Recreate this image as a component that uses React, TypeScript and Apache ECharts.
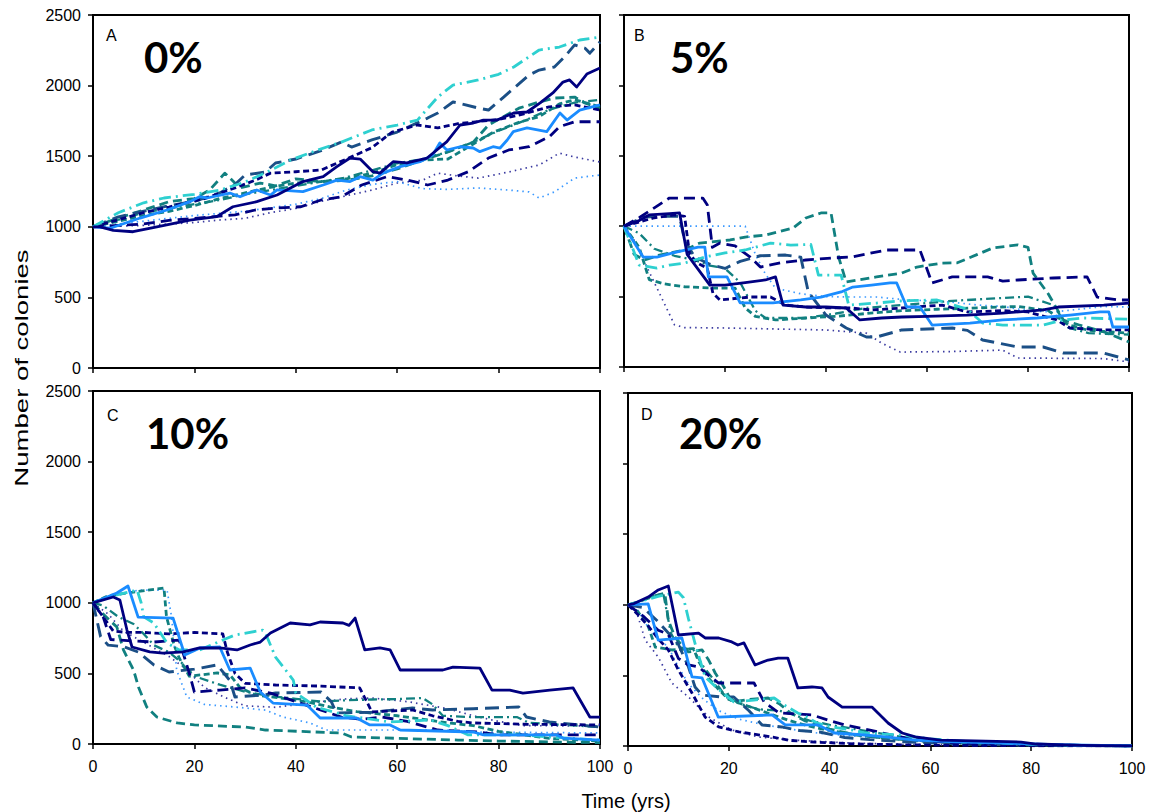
import React, { useEffect, useRef } from "react";
import * as echarts from "echarts";

// ---------- Data: number of colonies over time (years), ten simulation runs per harvest level ----------
const xTicks = [0, 20, 40, 60, 80, 100];
const yTicks = [0, 500, 1000, 1500, 2000, 2500];

// Panel A – 0%
const aNavySolid = [[0,1000],[1.4,1000],[4,975],[7.9,965],[12.6,1000],[19.1,1048],[24.4,1072],[27.6,1142],[32.3,1178],[36.3,1225],[41.4,1320],[45.4,1355],[48.1,1426],[50.7,1487],[52.7,1480],[55.2,1390],[56.6,1380],[59.2,1461],[61.9,1452],[65.9,1487],[69.8,1603],[72.4,1721],[75,1735],[77,1756],[79.7,1756],[83,1806],[85.6,1813],[88.2,1877],[90.7,1948],[92.7,2025],[94,2040],[95.4,1990],[97.4,2082],[100,2125]];
const aBlueSolid = [[0,1000],[3.4,990],[9.3,1062],[14.6,1119],[19.1,1178],[21,1213],[22.5,1204],[27,1239],[29,1213],[32.3,1261],[35,1225],[36.3,1261],[41.4,1249],[45.4,1296],[48.1,1331],[50.7,1320],[52.7,1355],[55.2,1331],[57.2,1380],[60.6,1426],[64.5,1461],[67,1508],[68.4,1593],[69.8,1544],[72.4,1567],[75,1558],[76.3,1532],[78.9,1567],[80.3,1558],[81.7,1615],[82.9,1674],[85.6,1700],[89.5,1674],[92.1,1806],[93.5,1756],[96,1827],[100,1863]];
const aNavyShortDash = [[0,1000],[5,1050],[10,1100],[15,1140],[18,1167],[22,1200],[28,1275],[32,1330],[35,1380],[40,1390],[45,1402],[50,1480],[55,1560],[59,1671],[64,1721],[68,1700],[72,1730],[75,1742],[80,1760],[85,1800],[90,1850],[95,1863],[100,1827]];
const aNavyLongDash = [[0,1000],[5,1010],[10,1020],[15,1045],[20,1060],[25,1075],[28,1085],[32,1119],[36,1133],[41,1142],[45,1190],[49,1213],[53,1296],[58,1355],[62,1331],[66,1296],[70,1331],[74,1390],[78,1487],[82,1544],[86,1567],[90,1638],[92,1709],[95,1744],[100,1744]];
const aSteelDash = [[0,1000],[5,1070],[10,1110],[15,1150],[20,1180],[25,1240],[28,1300],[30,1367],[34,1388],[36,1452],[40,1480],[45,1540],[49,1600],[51,1565],[55,1615],[60,1671],[66,1770],[68,1806],[71,1884],[72,1877],[76,1841],[78,1827],[81,1919],[86,2075],[88,2110],[91,2132],[93,2203],[95,2288],[97,2266],[98,2230],[100,2309]];
const aTealDash = [[0,1000],[5,1062],[10,1119],[15,1178],[20,1200],[23,1260],[26,1380],[29,1275],[33,1310],[36,1290],[40,1340],[45,1320],[50,1330],[55,1360],[60,1410],[65,1473],[70,1530],[75,1600],[78,1721],[84,1840],[88,1884],[91,1912],[95,1919],[97,1877],[100,1841]];
const aTealShortDash = [[0,1000],[5,1040],[10,1080],[15,1110],[20,1150],[25,1200],[30,1240],[35,1280],[40,1310],[45,1320],[50,1340],[55,1380],[60,1440],[65,1473],[70,1480],[74,1565],[79,1671],[84,1740],[88,1780],[92,1870],[95,1900],[100,1850]];
const aCyanDashDot = [[0,1000],[5,1100],[10,1170],[14,1204],[20,1230],[25,1260],[30,1317],[35,1400],[39,1473],[44,1540],[49,1600],[55,1686],[60,1720],[64,1756],[68,1919],[71,2004],[76,2040],[80,2080],[83,2132],[88,2252],[92,2273],[96,2323],[100,2344]];
const aNavyDotted = [[0,1000],[10,1010],[20,1030],[25,1048],[30,1060],[35,1100],[40,1130],[45,1180],[50,1220],[55,1260],[60,1310],[65,1330],[68,1380],[72,1360],[76,1345],[82,1388],[88,1438],[92,1522],[95,1494],[100,1459]];
const aBlueDotted = [[0,1000],[10,1040],[20,1080],[30,1110],[40,1160],[45,1200],[50,1260],[55,1300],[60,1320],[65,1270],[70,1265],[76,1275],[82,1260],[86,1247],[88,1204],[91,1247],[95,1345],[100,1367]];
const aTealDashDot = [[0,1000],[5,1050],[10,1100],[15,1130],[20,1160],[25,1190],[30,1230],[35,1260],[40,1290],[45,1320],[50,1350],[55,1400],[60,1450],[65,1480],[70,1530],[75,1600],[80,1680],[85,1750],[90,1830],[95,1880],[100,1900]];

// Panel B – 5%
const bNavySolid = [[0,1000],[3,1040],[5,1080],[9,1090],[11,1094],[12.5,800],[17,582],[20,582],[24,600],[28,618],[30,640],[31.5,440],[36,426],[40,426],[44,419],[46.7,334],[51,348],[55,355],[60,360],[68,369],[75,383],[83,405],[86,426],[95,440],[100,454]];
const bBlueSolid = [[0,1000],[3.8,781],[6.5,781],[9.7,810],[14.7,852],[16,852],[16.7,640],[20.4,640],[23,455],[29.5,455],[35,476],[39,497],[43,533],[45.3,568],[49,582],[52.7,597],[54,597],[56,426],[58.6,426],[61,298],[68.5,312],[75,334],[81.8,348],[88.3,369],[94.3,391],[96,391],[96.8,284],[100,284]];
const bNavyLongDash = [[0,1000],[3,1060],[6,1130],[9,1200],[15.6,1200],[16.5,1150],[17.5,850],[19,880],[22,860],[25,780],[27,710],[31,740],[36,760],[41,774],[45,781],[52,831],[58.6,831],[61,597],[65,640],[72,640],[75,610],[78,618],[85,632],[91.7,640],[93.7,497],[98,476],[100,476]];
const bNavyShortDash = [[0,1000],[3,1030],[6,1060],[10,1080],[12,1070],[13,800],[14.5,740],[16.5,700],[17.6,525],[19,476],[25,497],[29,497],[32,440],[36,426],[40,420],[45,419],[49,405],[55,419],[63,440],[68,391],[75,400],[80,391],[85.7,334],[88.3,277],[95,263],[100,263]];
const bSteelDash = [[0,1000],[4,1065],[8,1070],[11,1070],[12,900],[14,781],[17,730],[20,700],[23,750],[27,790],[32,795],[35,780],[36.5,532],[40,369],[44,277],[48,213],[50,213],[55,263],[65,277],[68,260],[71,192],[78,142],[83,142],[87,99],[95,99],[100,50]];
const bTealDash = [[0,1000],[2,800],[4,760],[7,795],[12,831],[15,880],[21,902],[24,923],[28,937],[33.5,987],[36,1058],[39,1094],[41,1094],[42.5,780],[44,604],[50,640],[55,667],[58,710],[63,738],[66,740],[70,800],[73,845],[78,867],[80,850],[81,667],[84,520],[87,334],[90,300],[95,250],[100,178]];
const bTealShortDash = [[0,1000],[2,900],[3,850],[5,620],[8,590],[12,570],[18,560],[22,560],[24,420],[26,360],[30,334],[36,348],[42,360],[48,380],[55,400],[62,410],[70,420],[78,430],[84,400],[88,300],[92,260],[96,250],[100,240]];
const bCyanDashDot = [[0,1000],[3,724],[6.5,703],[9,724],[12,738],[16,781],[20,810],[24,831],[29,880],[33,866],[37,870],[38.5,653],[43,653],[44.5,440],[50,454],[55,470],[62,476],[68,410],[71,312],[75,298],[83,298],[87,334],[91,348],[100,340]];
const bNavyDotted = [[0,1000],[2,900],[4,750],[6,600],[8,450],[10,300],[12,280],[20,277],[30,270],[40,263],[48,240],[51,170],[54.7,106],[65,110],[75,120],[78,64],[85,62],[95,60],[100,36]];
const bBlueDotted = [[0,1000],[5,1000],[15,1000],[24,1000],[26,800],[28,660],[30,560],[35,520],[40,500],[45,497],[50,497],[55,480],[60,470],[65,460],[70,440],[75,430],[80,400],[85,390],[90,410],[95,430],[100,426]];
const bTealDashDot = [[0,1000],[3,950],[6,840],[10,790],[14,760],[17,720],[20,700],[23,600],[26,400],[28,348],[36,348],[42,380],[48,420],[55,440],[60,454],[65,470],[70,480],[75,490],[80,500],[85,440],[88,280],[92,240],[100,230]];

// Panel C – 10%
const cNavySolid = [[0,1000],[4,1041],[5.3,1020],[6.7,807],[7.7,687],[11.2,652],[13.8,644],[17.8,652],[21,680],[25,680],[28.4,666],[31,701],[33,722],[35,786],[38.9,857],[42.8,843],[44.8,864],[49.3,857],[50.5,840],[51.7,892],[53.6,666],[56.6,680],[58.6,666],[60.6,524],[65.1,524],[69,524],[71,545],[76.3,538],[78.7,382],[82.2,382],[84.8,361],[90.1,382],[94.7,397],[98,191],[100,191]];
const cBlueSolid = [[0,1000],[4.7,1069],[6.9,1119],[8.9,899],[15.8,892],[18.1,630],[21.1,680],[25,687],[27,524],[31,538],[33,368],[35.5,290],[42.2,276],[44.8,184],[52,184],[54.6,135],[58.6,135],[60.6,99],[75,85],[77,64],[91.5,64],[92.7,42],[100,28]];
const cNavyShortDash = [[0,1000],[2,900],[4,800],[6.7,790],[10,790],[15,780],[20,790],[25.6,780],[26.5,650],[28,500],[30,430],[36,418],[45,410],[52.6,397],[54,300],[55,227],[63,241],[67,200],[72,160],[75,149],[85,140],[100,135]];
const cNavyLongDash = [[0,1000],[2,900],[3.5,740],[8,730],[12,722],[17,736],[19,500],[20,368],[25,382],[30,397],[35,360],[40,300],[45,240],[49,190],[53,175],[57,191],[62,160],[68,99],[76,85],[80,64],[100,64]];
const cSteelDash = [[0,1000],[1.5,760],[3,700],[6,690],[9,650],[12,560],[15,510],[20,530],[24.5,560],[27,450],[28,333],[33.5,347],[36,361],[45,368],[47,300],[48,220],[55,225],[63,255],[67,241],[75,250],[84,262],[85.5,191],[90,156],[100,120]];
const cTealDash = [[0,1000],[2,920],[4.7,829],[6,666],[8,524],[9,400],[10.6,262],[12.6,191],[16.6,149],[20,135],[30,120],[34,99],[49,78],[51,50],[60,40],[72,28],[80,21],[90,15],[100,10]];
const cTealShortDash = [[0,1000],[3,1050],[8,1076],[14,1105],[14.5,900],[16,700],[17,609],[19,480],[24.5,503],[27,490],[29,400],[32,347],[36,330],[42,300],[47,260],[52,230],[60,200],[70,150],[75,130],[80,90],[90,40],[100,20]];
const cCyanDashDot = [[0,1000],[4,1050],[8.7,1090],[9.5,1000],[10,900],[12,857],[14.6,715],[17,666],[21,666],[25.6,736],[28,772],[33.5,807],[34,786],[36,616],[38,524],[39.5,453],[40,361],[44,262],[50,200],[58.6,156],[66.5,170],[70,130],[74,64],[85,64],[90,50],[100,28]];
const cNavyDotted = [[0,1000],[3,920],[6,800],[10,720],[15,620],[18,540],[22,400],[26,330],[30,270],[36,260],[45,300],[50,320],[55,326],[62,300],[70,250],[75,200],[80,160],[85,130],[100,127]];
const cBlueDotted = [[0,1000],[4,1050],[9,1090],[14.6,1090],[15.5,900],[16.5,524],[18.5,333],[22,280],[28,262],[34,240],[37.5,191],[42.8,149],[46,99],[60,99],[70,99],[75,85],[100,78]];
const cTealDashDot = [[0,1000],[2,980],[5,900],[8,850],[10,780],[12,700],[15,650],[18,560],[20,480],[25,420],[30,370],[35,340],[40,320],[45,300],[50,310],[55,315],[60,318],[65,326],[67,280],[69,200],[75,190],[83.6,191],[86,150],[100,120]];

// Panel D – 20%
const dNavySolid = [[0,1000],[1,1006],[4,1055],[6,1105],[8,1133],[10,786],[14,800],[15.3,765],[18,765],[20.6,737],[21.8,715],[23,730],[25.2,574],[27.8,609],[29.8,623],[31.7,623],[33.7,411],[36.5,418],[38.5,411],[39.7,347],[42.5,276],[48.4,276],[51.6,163],[54.4,92],[57,64],[62,42],[71,35],[78,28],[81,14],[90,5],[100,0]];
const dBlueSolid = [[0,1000],[4,1006],[6,750],[10.7,765],[12.7,489],[14.7,482],[17.9,205],[28.6,220],[31.2,149],[37.7,149],[41,92],[47,78],[51,64],[57,42],[65,30],[75,20],[85,10],[100,0]];
const dNavyShortDash = [[0,1000],[2,930],[4,850],[6,760],[8,680],[10,538],[12.7,375],[15.3,205],[18,135],[22,100],[28.6,64],[32,40],[37,28],[45,15],[55,8],[70,3],[100,0]];
const dNavyLongDash = [[0,1000],[3,920],[6,820],[8,790],[10,620],[12,574],[14,560],[16,500],[18,446],[25,446],[26,380],[27,312],[30,234],[36.5,220],[40,180],[43,149],[48,113],[52,80],[56,50],[62,30],[70,15],[80,8],[100,2]];
const dSteelDash = [[0,1000],[3,980],[6,880],[8,800],[10,720],[12,560],[13.3,418],[14.7,361],[18.6,347],[21,347],[24,250],[26.6,149],[30.5,135],[34,110],[38,99],[43,60],[48,45],[55,30],[65,15],[80,5],[100,0]];
const dTealDash = [[0,1000],[2,1020],[5,1060],[7.3,1083],[8,892],[9.3,772],[11,700],[12,666],[14.7,680],[16,609],[17.3,517],[19,420],[20.6,312],[24,330],[27.8,340],[30,300],[32,240],[35,180],[40,120],[45,80],[50,60],[56,42],[65,25],[75,12],[85,5],[100,0]];
const dTealShortDash = [[0,1000],[2,950],[4,850],[5.4,701],[8.7,680],[13,690],[14,600],[16,480],[18,400],[20,330],[24,280],[28,230],[32,180],[36,140],[40,110],[45,80],[50,60],[60,30],[70,15],[85,5],[100,0]];
const dCyanDashDot = [[0,1000],[3,1030],[6,1060],[10,1090],[11,1050],[12,900],[13.5,700],[15.3,489],[18,400],[21,312],[25,325],[29,340],[31,290],[33.7,234],[35.5,205],[37.5,163],[40.5,135],[44.5,113],[47,92],[54,78],[60,50],[70,25],[80,12],[90,5],[100,0]];
const dNavyDotted = [[0,1000],[1.4,985],[3.4,751],[6,630],[8.7,446],[12,347],[16,205],[20.6,113],[25.8,64],[32.5,42],[45,20],[60,8],[80,2],[100,0]];
const dBlueDotted = [[0,1000],[2,960],[4,840],[6,760],[8,700],[10,560],[12,440],[15,330],[18,250],[22,190],[27,150],[32,120],[38,90],[45,70],[52,50],[58,35],[65,25],[75,15],[85,8],[100,2]];
const dTealDashDot = [[0,1000],[2,1020],[4,1050],[7,1080],[8.5,800],[10,700],[13,680],[15,560],[17,470],[19,370],[22,300],[26,260],[30,250],[33,220],[36,180],[40,150],[45,120],[50,90],[55,60],[62,40],[70,25],[80,12],[90,5],[100,0]];

// ---------- Line styles for the ten runs ----------
const NAVY = "#000080";
const BLUE = "#1A8CFF";
const STEEL = "#1B4F86";
const TEAL = "#118080";
const CYAN = "#2ED0D0";
const DOT_NAVY = "#3a3aa0";
const DOT_BLUE = "#3b99ff";

type Run = { data: number[][]; color: string; width: number; dash: "solid" | number[] };

function runs(
  navySolid: number[][], blueSolid: number[][], navyShort: number[][], navyLong: number[][],
  steel: number[][], teal: number[][], tealShort: number[][], cyan: number[][],
  navyDot: number[][], blueDot: number[][], tealDashDot: number[][]
): Run[] {
  // drawn bottom-to-top: dotted first, solids last
  return [
    { data: navyDot, color: DOT_NAVY, width: 1.7, dash: [1.5, 4] },
    { data: blueDot, color: DOT_BLUE, width: 1.7, dash: [1.5, 4] },
    { data: tealDashDot, color: TEAL, width: 2.3, dash: [9, 4, 2, 4] },
    { data: tealShort, color: TEAL, width: 2.8, dash: [6, 3.5] },
    { data: teal, color: TEAL, width: 2.8, dash: [9, 5] },
    { data: steel, color: STEEL, width: 2.9, dash: [14, 7] },
    { data: navyLong, color: NAVY, width: 2.8, dash: [11, 6] },
    { data: navyShort, color: NAVY, width: 2.8, dash: [6, 3.5] },
    { data: cyan, color: CYAN, width: 2.8, dash: [12, 5, 2, 5] },
    { data: blueSolid, color: BLUE, width: 2.8, dash: "solid" },
    { data: navySolid, color: NAVY, width: 2.8, dash: "solid" },
  ];
}

const panels = [
  {
    letter: "A", pct: "0%", grid: { left: 93, top: 15, width: 507, height: 353 },
    yLabels: true, xLabels: false, letterPos: [106, 27], pctPos: [144, 57],
    lines: runs(aNavySolid, aBlueSolid, aNavyShortDash, aNavyLongDash, aSteelDash, aTealDash, aTealShortDash, aCyanDashDot, aNavyDotted, aBlueDotted, aTealDashDot),
  },
  {
    letter: "B", pct: "5%", grid: { left: 624, top: 15, width: 505, height: 352 },
    yLabels: false, xLabels: false, letterPos: [634, 27], pctPos: [670, 57],
    lines: runs(bNavySolid, bBlueSolid, bNavyShortDash, bNavyLongDash, bSteelDash, bTealDash, bTealShortDash, bCyanDashDot, bNavyDotted, bBlueDotted, bTealDashDot),
  },
  {
    letter: "C", pct: "10%", grid: { left: 93, top: 391, width: 507, height: 353 },
    yLabels: true, xLabels: true, letterPos: [107, 407], pctPos: [146, 433],
    lines: runs(cNavySolid, cBlueSolid, cNavyShortDash, cNavyLongDash, cSteelDash, cTealDash, cTealShortDash, cCyanDashDot, cNavyDotted, cBlueDotted, cTealDashDot),
  },
  {
    letter: "D", pct: "20%", grid: { left: 628, top: 393, width: 504, height: 353 },
    yLabels: false, xLabels: true, letterPos: [641, 406], pctPos: [679, 433],
    lines: runs(dNavySolid, dBlueSolid, dNavyShortDash, dNavyLongDash, dSteelDash, dTealDash, dTealShortDash, dCyanDashDot, dNavyDotted, dBlueDotted, dTealDashDot),
  },
];

const AXIS_FONT = "'Liberation Sans', Arial, sans-serif";

export default function App() {
  const ref = useRef<HTMLDivElement>(null);

  useEffect(() => {
    if (!ref.current) return;
    const chart = echarts.init(ref.current, undefined, { renderer: "svg" });

    const grids: any[] = [];
    const xAxes: any[] = [];
    const yAxes: any[] = [];
    const series: any[] = [];
    const graphics: any[] = [];

    panels.forEach((p, i) => {
      grids.push({
        ...p.grid,
        show: true,
        borderColor: "#000",
        borderWidth: 2,
        backgroundColor: "#fff",
        containLabel: false,
      });
      xAxes.push({
        type: "value",
        gridIndex: i,
        min: xTicks[0],
        max: xTicks[xTicks.length - 1],
        interval: 20,
        axisLine: { show: true, onZero: false, lineStyle: { color: "#000", width: 2 } },
        axisTick: { show: true, inside: false, length: 5, lineStyle: { color: "#000", width: 1.5 } },
        axisLabel: {
          show: p.xLabels, margin: 14, color: "#000", fontSize: 16, fontFamily: AXIS_FONT,
          formatter: (v: number) => String(v),
        },
        splitLine: { show: false },
      });
      yAxes.push({
        type: "value",
        gridIndex: i,
        min: yTicks[0],
        max: yTicks[yTicks.length - 1],
        interval: 500,
        axisLine: { show: true, onZero: false, lineStyle: { color: "#000", width: 2 } },
        axisTick: { show: true, inside: false, length: 5, lineStyle: { color: "#000", width: 1.5 } },
        axisLabel: {
          show: p.yLabels, margin: 12, color: "#000", fontSize: 16, fontFamily: AXIS_FONT,
          formatter: (v: number) => String(v),
        },
        splitLine: { show: false },
      });
      p.lines.forEach((r) => {
        series.push({
          type: "line",
          xAxisIndex: i,
          yAxisIndex: i,
          data: r.data,
          showSymbol: false,
          symbol: "none",
          silent: true,
          lineStyle: { color: r.color, width: r.width, type: r.dash, cap: "butt", join: "round" },
        });
      });
      graphics.push({
        type: "text",
        left: p.letterPos[0],
        top: p.letterPos[1],
        style: { text: p.letter, fill: "#000", font: `16px ${AXIS_FONT}` },
        z: 100,
      });
      graphics.push({
        type: "text",
        x: p.pctPos[0],
        y: p.pctPos[1],
        style: {
          text: p.pct,
          fill: "#000",
          font: "bold 42px Lato, 'Open Sans', sans-serif",
          verticalAlign: "middle",
        },
        z: 100,
      });
    });

    // axis titles (the y title is stretched along its length)
    graphics.push({
      type: "text",
      x: 22,
      y: 368,
      rotation: Math.PI / 2,
      scaleX: 1.45,
      style: {
        text: "Number of colonies",
        fill: "#000",
        font: `19px ${AXIS_FONT}`,
        align: "center",
        verticalAlign: "middle",
      },
    });
    graphics.push({
      type: "text",
      x: 626,
      y: 801,
      style: {
        text: "Time (yrs)",
        fill: "#000",
        font: `20px ${AXIS_FONT}`,
        align: "center",
        verticalAlign: "middle",
      },
    });

    chart.setOption({
      animation: false,
      backgroundColor: "#fff",
      grid: grids,
      xAxis: xAxes,
      yAxis: yAxes,
      series,
      graphic: graphics,
    });

    return () => chart.dispose();
  }, []);

  return (
    <div
      ref={ref}
      style={{ position: "fixed", left: 0, top: 0, width: 1149, height: 812, background: "#fff" }}
    />
  );
}
